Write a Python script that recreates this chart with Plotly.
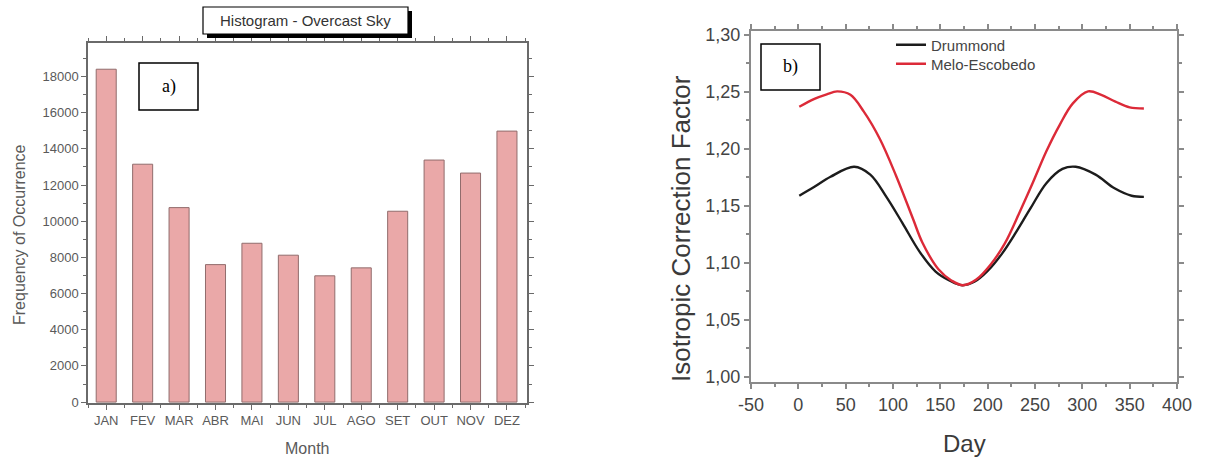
import plotly.graph_objects as go

# ---------------- data ----------------
months = ["JAN", "FEV", "MAR", "ABR", "MAI", "JUN", "JUL", "AGO", "SET", "OUT", "NOV", "DEZ"]
frequency = [18400, 13150, 10750, 7600, 8780, 8120, 6980, 7420, 10550, 13380, 12660, 14980]
freq_ticks = [0, 2000, 4000, 6000, 8000, 10000, 12000, 14000, 16000, 18000]
freq_tick_text = ["0", "2000", "4000", "6000", "8000", "10000", "12000", "14000", "16000", "18000"]

day_drummond = [1, 17, 34, 59, 76, 93, 110, 128, 145, 160, 173, 186, 200, 215, 230, 245, 262, 279, 293,
                314, 334, 352, 365]
drummond = [1.159, 1.1668, 1.1756, 1.1844, 1.1775, 1.158, 1.135, 1.110, 1.0925, 1.0845, 1.0805, 1.0835,
            1.093, 1.108, 1.127, 1.1476, 1.170, 1.1825, 1.1844, 1.1775, 1.1655, 1.159, 1.158]

day_melo = [1, 17, 30, 41, 55, 69, 86, 103, 121, 131, 148, 162, 174, 188, 203, 218, 234, 248, 262, 276,
            290, 306, 320, 335, 350, 365]
melo = [1.237, 1.244, 1.248, 1.2505, 1.2475, 1.233, 1.209, 1.177, 1.139, 1.118, 1.0945, 1.0845, 1.0805,
        1.0855, 1.0985, 1.117, 1.145, 1.171, 1.198, 1.221, 1.240, 1.2505, 1.2475, 1.2415, 1.2365, 1.2355]

day_ticks = [-50, 0, 50, 100, 150, 200, 250, 300, 350, 400]
day_tick_text = ["-50", "0", "50", "100", "150", "200", "250", "300", "350", "400"]
factor_ticks = [1.00, 1.05, 1.10, 1.15, 1.20, 1.25, 1.30]
factor_tick_text = ["1,00", "1,05", "1,10", "1,15", "1,20", "1,25", "1,30"]

# ---------------- layout helpers ----------------
W, H = 1215, 459


def px(x):
    return x / W


def py(y):
    return 1 - y / H


SANS = "Liberation Sans, Arial, sans-serif"
SERIF = "Liberation Serif, Times New Roman, serif"
LEFT_GRAY = "#5a5a5a"
RIGHT_GRAY = "#444444"

fig = go.Figure()

fig.add_trace(go.Bar(
    x=list(range(len(months))), y=frequency, width=0.55,
    marker=dict(color="rgb(234,168,168)", line=dict(color="rgb(145,108,108)", width=1)),
    showlegend=False, xaxis="x", yaxis="y",
))

fig.add_trace(go.Scatter(
    x=day_drummond, y=drummond, mode="lines", name="Drummond", legend="legend",
    line=dict(color="#1c1c1c", width=2.4, shape="spline", smoothing=1.0),
    xaxis="x2", yaxis="y2",
))
fig.add_trace(go.Scatter(
    x=day_melo, y=melo, mode="lines", name="Melo-Escobedo", legend="legend2",
    line=dict(color="#dc2a38", width=2.4, shape="spline", smoothing=1.0),
    xaxis="x2", yaxis="y2",
))

left_axis = dict(showline=True, linecolor="#6a6a6a", linewidth=1.5, mirror="ticks",
                 ticks="outside", ticklen=5, tickcolor="#6a6a6a", tickwidth=1,
                 showgrid=False, zeroline=False, automargin=False, fixedrange=True,
                 tickfont=dict(family=SANS, size=13, color=LEFT_GRAY))
right_axis = dict(showline=True, linecolor="#8a8a8a", linewidth=2, mirror="ticks",
                  ticks="outside", ticklen=5, tickcolor="#8a8a8a", tickwidth=1.5,
                  showgrid=False, zeroline=False, automargin=False, fixedrange=True,
                  tickfont=dict(family=SANS, size=18, color=RIGHT_GRAY))

legend_style = dict(xanchor="left", yanchor="middle", bgcolor="rgba(0,0,0,0)",
                    font=dict(family=SANS, size=15, color=RIGHT_GRAY), itemwidth=30,
                    borderwidth=0)


def ann(text, x, y, size, color, family=SANS, angle=0):
    return dict(text=text, x=px(x), y=py(y), xref="paper", yref="paper",
                xanchor="center", yanchor="middle", textangle=angle,
                showarrow=False, font=dict(family=family, size=size, color=color))


fig.update_layout(
    width=W, height=H, autosize=False,
    margin=dict(l=0, r=0, t=0, b=0, pad=0, autoexpand=False),
    paper_bgcolor="white", plot_bgcolor="white",
    xaxis=dict(domain=[px(88), px(527)], range=[-0.5, 11.55], anchor="y",
               tickmode="array", tickvals=list(range(len(months))), ticktext=months,
               minor=dict(ticks="outside", ticklen=3, tickcolor="#6a6a6a", dtick=1, tick0=0.5),
               **left_axis),
    yaxis=dict(domain=[py(403), py(43)], range=[-50, 19850], anchor="x",
               tickmode="array", tickvals=freq_ticks, ticktext=freq_tick_text,
               minor=dict(ticks="outside", ticklen=3, tickcolor="#6a6a6a", dtick=1000, tick0=0),
               **left_axis),
    xaxis2=dict(domain=[px(751), px(1177)], range=[-50, 400], anchor="y2",
                tickmode="array", tickvals=day_ticks, ticktext=day_tick_text,
                minor=dict(ticks="outside", ticklen=3, tickcolor="#8a8a8a", dtick=25, tick0=0),
                **right_axis),
    yaxis2=dict(domain=[py(382), py(31)], range=[0.9956, 1.3035], anchor="x2",
                tickmode="array", tickvals=factor_ticks, ticktext=factor_tick_text,
                minor=dict(ticks="outside", ticklen=3, tickcolor="#8a8a8a", dtick=0.025, tick0=1.0),
                **right_axis),
    legend=dict(x=px(891), y=py(45), **legend_style),
    legend2=dict(x=px(891), y=py(64), **legend_style),
    shapes=[
        # title box with shadow (left panel)
        dict(type="rect", xref="paper", yref="paper", x0=px(207), x1=px(412), y0=py(38), y1=py(11),
             fillcolor="black", line=dict(width=0), layer="above"),
        dict(type="rect", xref="paper", yref="paper", x0=px(203), x1=px(408), y0=py(34), y1=py(7),
             fillcolor="white", line=dict(color="black", width=1.2), layer="above"),
        # panel label boxes
        dict(type="rect", xref="paper", yref="paper", x0=px(139), x1=px(198), y0=py(110), y1=py(63),
             fillcolor="white", line=dict(color="black", width=1.5), layer="above"),
        dict(type="rect", xref="paper", yref="paper", x0=px(761), x1=px(820), y0=py(90), y1=py(44),
             fillcolor="white", line=dict(color="black", width=1.5), layer="above"),
    ],
    annotations=[
        ann("Histogram - Overcast Sky", 305.5, 20.5, 15, "#333333"),
        ann("a)", 168.5, 86.5, 18, "black", SERIF),
        ann("b)", 790.5, 67, 18, "black", SERIF),
        ann("Frequency of Occurrence", 19, 235, 16, LEFT_GRAY, angle=-90),
        ann("Month", 307, 448, 16, LEFT_GRAY),
        ann("Isotropic Correction Factor", 681, 229, 26, "#3a3a3a", angle=-90),
        ann("Day", 964, 443, 24, "#3a3a3a"),
    ],
)

fig.write_html("out.html", config={"displayModeBar": False, "responsive": False},
               post_script="document.body.style.margin='0';document.body.style.overflow='hidden';")
